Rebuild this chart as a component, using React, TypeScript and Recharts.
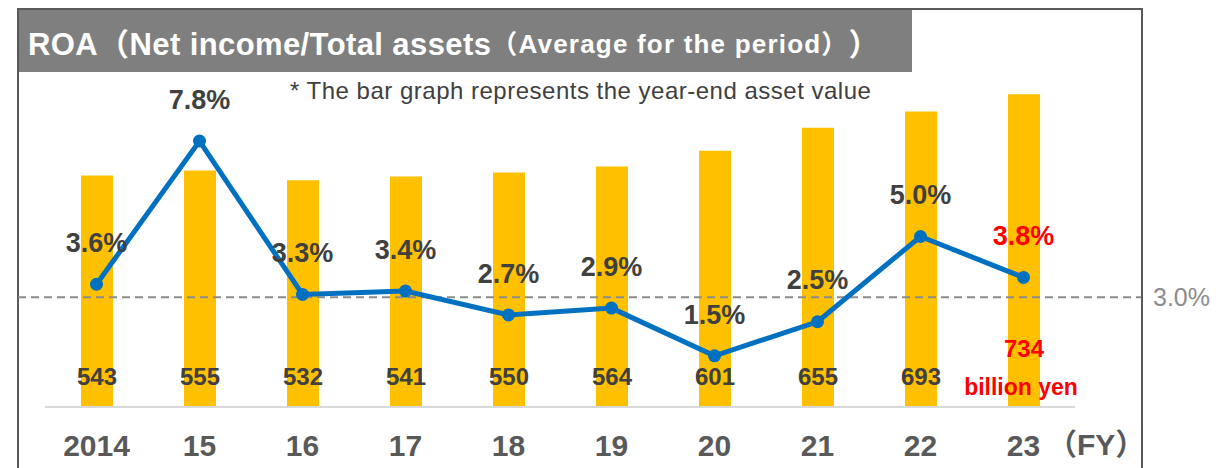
import { ComposedChart, Bar, Line, XAxis, YAxis, ReferenceLine, LabelList } from 'recharts';

const YEARS = ['2014', '15', '16', '17', '18', '19', '20', '21', '22', '23'];
const ASSETS = [543, 555, 532, 541, 550, 564, 601, 655, 693, 734];
const ROA = [3.6, 7.8, 3.3, 3.4, 2.7, 2.9, 1.5, 2.5, 5.0, 3.8];
// dashed guide drawn where it sits on the ROA scale in the source
const GUIDE_Y = 3.22;
const GUIDE_LABEL = '3.0%';

const data = YEARS.map((year, i) => ({ year, assets: ASSETS[i], roa: ROA[i] }));

const FONT = "'Liberation Sans', Arial, 'Noto Sans CJK JP', sans-serif";
const last = YEARS.length - 1;

const YearTick = (props: any) => {
  const { x, y, payload } = props;
  return (
    <text x={x} y={y + 38} textAnchor="middle" dy="0.36em" fill="#595959" fontSize={30} fontWeight="bold" fontFamily={FONT}>
      {payload.value}
    </text>
  );
};

const AssetLabel = (props: any) => {
  const { x, y, width, height, value, index } = props;
  const cx = x + width / 2;
  const bottom = y + height;
  if (index === last) {
    return (
      <g>
        <text x={cx} y={bottom - 59} textAnchor="middle" dy="0.36em" fill="#FF0000" fontSize={24} fontWeight="bold" fontFamily={FONT}>
          {value}
        </text>
        <text x={cx - 3} y={bottom - 20} textAnchor="middle" dy="0.36em" fill="#FF0000" fontSize={23} fontWeight="bold" fontFamily={FONT}>
          billion yen
        </text>
      </g>
    );
  }
  return (
    <text x={cx} y={bottom - 31} textAnchor="middle" dy="0.36em" fill="#404040" fontSize={24} fontWeight="bold" fontFamily={FONT}>
      {value}
    </text>
  );
};

const RoaLabel = (props: any) => {
  const { x, y, value, index } = props;
  return (
    <text x={x} y={y - 42} textAnchor="middle" dy="0.36em" fill={index === last ? '#FF0000' : '#404040'} fontSize={27} fontWeight="bold" fontFamily={FONT}>
      {`${Number(value).toFixed(1)}%`}
    </text>
  );
};

const GuideLine = (props: any) => {
  const { y1 } = props;
  return (
    <g>
      <line x1={18} x2={1141} y1={y1} y2={y1} stroke="#8C8C8C" strokeWidth={2} strokeDasharray="8 5" />
      <text x={1153} y={y1} dy="0.36em" fill="#8C8C8C" fontSize={25} fontFamily={FONT}>
        {GUIDE_LABEL}
      </text>
    </g>
  );
};

export default function App() {
  return (
    <div style={{ position: 'absolute', left: 0, top: 0, width: 1231, height: 468, overflow: 'hidden', background: '#fff', fontFamily: FONT }}>
      <div style={{ position: 'absolute', left: 17, top: 8, width: 1122, height: 500, border: '2px solid #595959' }} />
      <div
        style={{
          position: 'absolute', left: 19, top: 10, width: 893, height: 62, background: '#7F7F7F', color: '#fff',
          display: 'flex', alignItems: 'center', paddingLeft: 9, boxSizing: 'border-box', fontWeight: 'bold', whiteSpace: 'nowrap',
        }}
      >
        <span style={{ fontSize: 31, letterSpacing: 0.4 }}>ROA（Net income/Total assets</span>
        <span style={{ fontSize: 26, letterSpacing: 1.2 }}>（Average for the period）</span>
        <span style={{ fontSize: 31 }}>）</span>
      </div>
      <div style={{ position: 'absolute', left: 290, top: 77, fontSize: 24, lineHeight: '28px', letterSpacing: 0.5, color: '#404040', whiteSpace: 'nowrap' }}>
        * The bar graph represents the year-end asset value
      </div>
      <div style={{ position: 'absolute', left: 0, top: 0 }}>
        <ComposedChart width={1231} height={468} data={data} margin={{ top: 66, right: 156, left: 45, bottom: 0 }}>
          <XAxis
            dataKey="year"
            height={61}
            tickLine={false}
            tickSize={0}
            tickMargin={0}
            axisLine={{ stroke: '#D9D9D9', strokeWidth: 2 }}
            tick={<YearTick />}
            interval={0}
          />
          <YAxis yAxisId="assets" domain={[0, 800]} hide />
          <YAxis yAxisId="roa" domain={[0, 10]} hide />
          <Bar yAxisId="assets" dataKey="assets" fill="#FFC000" barSize={32} isAnimationActive={false}>
            <LabelList dataKey="assets" content={<AssetLabel />} />
          </Bar>
          <ReferenceLine yAxisId="roa" y={GUIDE_Y} shape={<GuideLine />} />
          <Line
            yAxisId="roa"
            dataKey="roa"
            stroke="#0070C0"
            strokeWidth={5}
            dot={{ r: 6.5, fill: '#0070C0', stroke: 'none' }}
            isAnimationActive={false}
          >
            <LabelList dataKey="roa" content={<RoaLabel />} />
          </Line>
        </ComposedChart>
      </div>
      <div style={{ position: 'absolute', left: 1047, top: 427, fontSize: 30, lineHeight: '36px', fontWeight: 'bold', color: '#595959', whiteSpace: 'nowrap' }}>
        （FY）
      </div>
    </div>
  );
}
